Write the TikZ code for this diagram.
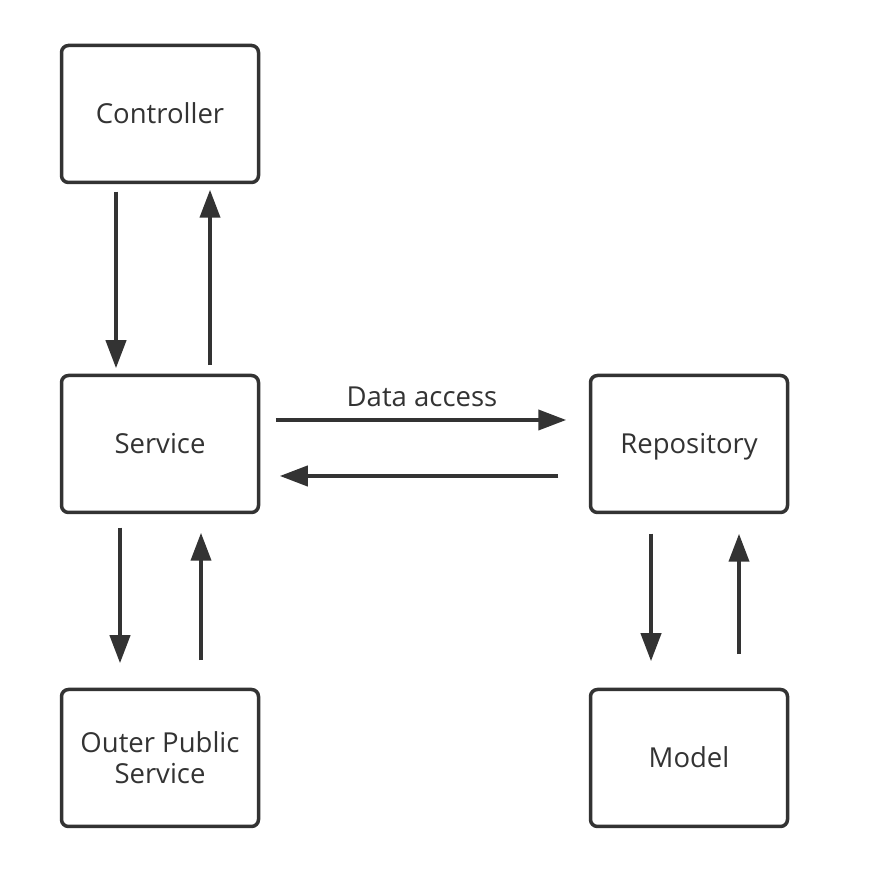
\documentclass[tikz,border=0pt]{standalone}
\usepackage{fontspec}
\setmainfont{Open Sans}
\usetikzlibrary{arrows.meta,calc}
\definecolor{ink}{HTML}{333333}
\tikzset{
  box/.style={draw=ink, line width=3.5pt, rounded corners=7pt, minimum width=197pt, minimum height=137pt,
    align=center, text=ink, font=\fontsize{27.5}{31}\selectfont, inner sep=0pt},
  oneline/.style={text height=20pt, text depth=0pt},
  arr/.style={draw=ink, line width=4pt, -{Triangle[length=28pt,width=20pt]}},
  lbl/.style={text=ink, font=\fontsize{27.5}{31}\selectfont, inner sep=0pt}
}
\begin{document}
\begin{tikzpicture}[x=1pt,y=1pt]
\useasboundingbox (0,0) rectangle (872,882);
\fill[white] (0,0) rectangle (872,882);
\node[box, oneline] (ctrl) at (160,768) {Controller};
\node[box, oneline] (svc) at (160,438) {Service};
\node[box] (outer) at (160,124) {Outer Public\\Service};
\node[box, oneline] (repo) at (689,438) {Repository};
\node[box, oneline] (model) at (689,124) {Model};
% controller <-> service
\draw[arr] ($(ctrl.south)+(-44pt,-7.5pt)$) -- ($(svc.north)+(-44pt,5.5pt)$);
\draw[arr] ($(svc.north)+(50pt,8.5pt)$) -- ($(ctrl.south)+(50pt,-5.5pt)$);
% service <-> outer
\draw[arr] ($(svc.south)+(-40pt,-13.5pt)$) -- ($(outer.north)+(-40pt,24.5pt)$);
\draw[arr] ($(outer.north)+(41pt,27.5pt)$) -- ($(svc.south)+(41pt,-18.5pt)$);
% service <-> repository
\draw[arr] ($(svc.east)+(15.5pt,24pt)$) -- ($(repo.west)+(-22.5pt,24pt)$);
\draw[arr] ($(repo.west)+(-30.5pt,-32pt)$) -- ($(svc.east)+(19.5pt,-32pt)$);
\node[lbl, anchor=base] (da) at (422,475) {Data access};
% repository <-> model
\draw[arr] ($(repo.south)+(-38pt,-19.5pt)$) -- ($(model.north)+(-38pt,26.5pt)$);
\draw[arr] ($(model.north)+(50pt,33.5pt)$) -- ($(repo.south)+(50pt,-19.5pt)$);
\end{tikzpicture}
\end{document}
